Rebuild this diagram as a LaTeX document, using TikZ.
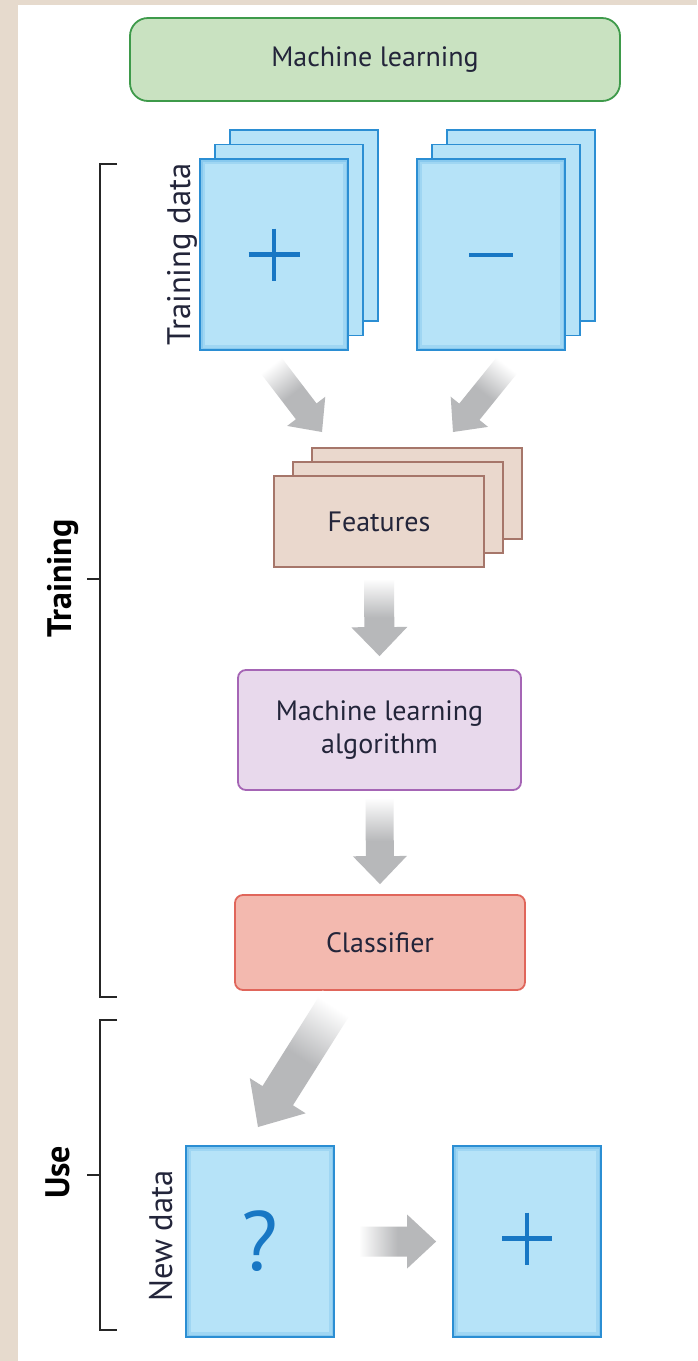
\documentclass[tikz,border=0pt]{standalone}
\usepackage{fontspec}
\setmainfont{PT Sans}
\usetikzlibrary{calc,shadows,positioning}

\definecolor{mlgreen}{HTML}{C9E2C1}
\definecolor{mlgreenline}{HTML}{3E9A4A}
\definecolor{cardfill}{HTML}{B6E3F8}
\definecolor{cardline}{HTML}{2B8ED3}
\definecolor{cardglow}{HTML}{5EB2E6}
\definecolor{signblue}{HTML}{1877C4}
\definecolor{featfill}{HTML}{EAD8CD}
\definecolor{featline}{HTML}{A6766A}
\definecolor{algfill}{HTML}{E8D9EC}
\definecolor{algline}{HTML}{A565B5}
\definecolor{clsfill}{HTML}{F3B9AF}
\definecolor{clsline}{HTML}{E0665B}
\definecolor{arrowgrey}{HTML}{B7B8BA}
\definecolor{txt}{HTML}{23253A}
\definecolor{paper}{HTML}{E6DACD}

\tikzset{
  box/.style={draw, line width=0.9pt, text=txt, align=center,
    font=\fontsize{14}{16.5}\selectfont},
  card/.style={draw=cardline, fill=cardfill, line width=0.9pt,
    minimum width=74pt, minimum height=95.5pt},
  glow/.style={path picture={
    \draw[cardglow, line width=5pt, opacity=0.25] (path picture bounding box.south west) rectangle (path picture bounding box.north east);
    \draw[cardglow, line width=2.5pt, opacity=0.35] (path picture bounding box.south west) rectangle (path picture bounding box.north east);}},
  sign/.style={draw=signblue, line width=2.2pt},
  side/.style={rotate=90, anchor=base, text=txt, font=\fontsize{16.3}{18}\selectfont},
  section/.style={side, text=black, font=\fontsize{17}{19}\selectfont\bfseries},
  brace/.style={draw=black!85, line width=0.8pt},
  down/.style={top color=white, bottom color=arrowgrey, middle color=arrowgrey},
}

% block arrow: [shading] from, to, half shaft, half head, head length
\newcommand\fatarrow[6][]{%
  \coordinate (fh) at ($(#3)!#6!(#2)$);
  \shade[#1] ($(#2)!#4!90:(#3)$) -- ($(fh)!#4!90:(#3)$) -- ($(fh)!#5!90:(#3)$) -- (#3)
    -- ($(fh)!#5!-90:(#3)$) -- ($(fh)!#4!-90:(#3)$) -- ($(#2)!#4!-90:(#3)$) -- cycle;
}

\begin{document}
\begin{tikzpicture}[x=0.5pt, y=-0.5pt]
  \useasboundingbox (0,0) rectangle (697,1361);
  \fill[paper] (0,0) rectangle (697,1361);
  \fill[white] (18,5) rectangle (697,1361);

  \node[box, fill=mlgreen, draw=mlgreenline, rounded corners=9pt,
    minimum width=245pt, minimum height=41.5pt] (ml) at (375,59.5) {Machine learning};

  % training data
  \node[card, glow, double copy shadow={shadow xshift=7.5pt, shadow yshift=7.25pt}] (pos) at (274,254.5) {};
  \draw[sign] ($(pos.center)+(-25.5,0)$) -- ++(51,0) ($(pos.center)+(0,-26)$) -- ++(0,52);
  \node[card, glow, double copy shadow={shadow xshift=7.5pt, shadow yshift=7.25pt}] (neg) at (491,254.5) {};
  \draw[sign] ($(neg.center)+(-22,0.5)$) -- ++(44,0);
  \node[side] (poslbl) at (190,254.5) {Training data};

  \node[box, fill=featfill, draw=featline, minimum width=105pt, minimum height=45.5pt,
    double copy shadow={shadow xshift=9.5pt, shadow yshift=7pt}] (feat) at (379,521.5) {Features};
  \node[box, fill=algfill, draw=algline, rounded corners=4pt,
    minimum width=141.5pt, minimum height=60pt] (alg) at (379.5,730) {Machine learning\\algorithm};
  \node[box, fill=clsfill, draw=clsline, rounded corners=4pt,
    minimum width=145pt, minimum height=47.5pt] (cls) at (380,942.5) {Classifier};

  % use
  \node[card, glow, text=signblue, font=\fontsize{42}{42}\selectfont] (new) at (260,1241.5) {?};
  \node[side] (newlbl) at (172,1236) {New data};
  \node[card, glow] (res) at (527,1241.5) {};
  \draw[sign] ($(res.center)+(-25,-3)$) -- ++(50,0) ($(res.center)+(0,-29)$) -- ++(0,52);

  % arrows
  \coordinate (a1) at (270,364);
  \coordinate (b1) at (322,432);
  \coordinate (a2) at (508,364);
  \coordinate (b2) at (453,432);
  \coordinate (a5) at (338,1000);
  \coordinate (b5) at (258,1127);
  \fatarrow[down, shading angle=38]{a1}{b1}{6.5pt}{12pt}{13pt}
  \fatarrow[down, shading angle=-38]{a2}{b2}{6.5pt}{12pt}{13pt}
  \fatarrow[down]{$(feat.south)+(0,11)$}{$(alg.north)+(0,-13)$}{7.5pt}{14pt}{14.5pt}
  \fatarrow[down]{$(alg.south)+(0,7)$}{$(cls.north)+(0,-10)$}{7pt}{13.5pt}{14pt}
  \fatarrow[down, shading angle=-33]{a5}{b5}{9pt}{16.5pt}{18.5pt}
  \fatarrow[left color=white, right color=arrowgrey, middle color=arrowgrey]{$(new.east)+(24,0)$}{$(res.west)+(-16,0)$}{7.5pt}{13.5pt}{14.5pt}

  % brackets
  \draw[brace] (117,164) -| (100,997) -- (117,997);
  \draw[brace] (87,579) -- (100,579);
  \node[section] (trainsec) at (71,578.5) {Training};
  \draw[brace] (117,1020) -| (100,1330) -- (117,1330);
  \draw[brace] (87,1175) -- (100,1175);
  \node[section] (usesec) at (69,1172.5) {Use};
\end{tikzpicture}
\end{document}
